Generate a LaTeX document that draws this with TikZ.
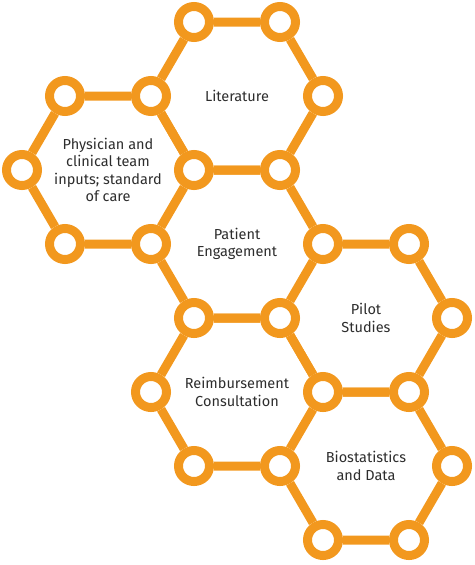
\documentclass[tikz,border=0pt]{standalone}
\usepackage{fontspec}
\setmainfont{Fira Sans}
\usepackage{xcolor}
\usetikzlibrary{backgrounds}
\definecolor{hexorange}{RGB}{242,152,30}
\definecolor{labelgray}{RGB}{45,45,45}

\begin{document}
\begin{tikzpicture}[x=43pt, y=-74pt,
    joint/.style={circle, draw=hexorange, line width=9pt, fill=white, minimum size=31pt, inner sep=0pt},
    link/.style={draw=hexorange, line width=9pt},
    label/.style={align=center, text=labelgray, font=\fontsize{14.5}{17.5}\selectfont}]
    \useasboundingbox (-22pt,22pt) rectangle (452pt,-543pt);

    % joints of the honeycomb
    \node[joint] (v4-0) at (4,0) {};
    \node[joint] (v6-0) at (6,0) {};
    \node[joint] (v1-1) at (1,1) {};
    \node[joint] (v3-1) at (3,1) {};
    \node[joint] (v7-1) at (7,1) {};
    \node[joint] (v0-2) at (0,2) {};
    \node[joint] (v4-2) at (4,2) {};
    \node[joint] (v6-2) at (6,2) {};
    \node[joint] (v1-3) at (1,3) {};
    \node[joint] (v3-3) at (3,3) {};
    \node[joint] (v7-3) at (7,3) {};
    \node[joint] (v9-3) at (9,3) {};
    \node[joint] (v4-4) at (4,4) {};
    \node[joint] (v6-4) at (6,4) {};
    \node[joint] (v10-4) at (10,4) {};
    \node[joint] (v3-5) at (3,5) {};
    \node[joint] (v7-5) at (7,5) {};
    \node[joint] (v9-5) at (9,5) {};
    \node[joint] (v4-6) at (4,6) {};
    \node[joint] (v6-6) at (6,6) {};
    \node[joint] (v10-6) at (10,6) {};
    \node[joint] (v7-7) at (7,7) {};
    \node[joint] (v9-7) at (9,7) {};

    % cell labels
    \node[label] (lit) at (5,1) {Literature};
    \node[label] (phys) at (2,2) {Physician and\\clinical team\\inputs; standard\\of care};
    \node[label] (pat) at (5,3) {Patient\\Engagement};
    \node[label] (pilot) at (8,4) {Pilot\\Studies};
    \node[label] (reimb) at (5,5) {Reimbursement\\Consultation};
    \node[label] (bio) at (8,6) {Biostatistics\\and Data};

    \begin{scope}[on background layer]
        \draw[link] (v4-0) -- (v6-0) -- (v7-1) -- (v6-2) -- (v4-2) -- (v3-1) -- (v4-0);
        \draw[link] (v1-1) -- (v3-1) -- (v4-2) -- (v3-3) -- (v1-3) -- (v0-2) -- (v1-1);
        \draw[link] (v4-2) -- (v6-2) -- (v7-3) -- (v6-4) -- (v4-4) -- (v3-3);
        \draw[link] (v7-3) -- (v9-3) -- (v10-4) -- (v9-5) -- (v7-5) -- (v6-4);
        \draw[link] (v4-4) -- (v6-4) -- (v7-5) -- (v6-6) -- (v4-6) -- (v3-5) -- (v4-4);
        \draw[link] (v7-5) -- (v9-5) -- (v10-6) -- (v9-7) -- (v7-7) -- (v6-6);
    \end{scope}
\end{tikzpicture}
\end{document}
